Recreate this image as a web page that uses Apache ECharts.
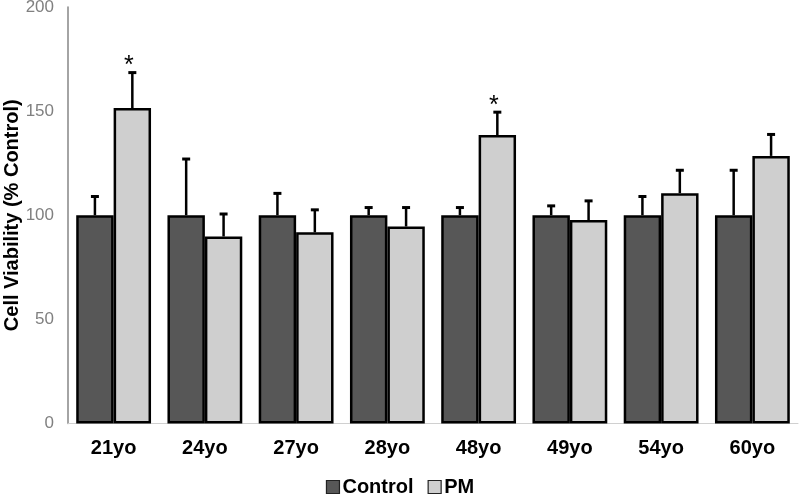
<!DOCTYPE html>
<html>
<head>
<meta charset="utf-8">
<script src="https://cdn.jsdelivr.net/npm/echarts@6/dist/echarts.min.js"></script>
<style>
html,body{margin:0;padding:0;background:#fff;}
#chart{width:800px;height:494px;}
</style>
</head>
<body>
<div id="chart"></div>
<script>
const categories = ['21yo','24yo','27yo','28yo','48yo','49yo','54yo','60yo'];
const controlValues = [100,100,100,100,100,100,100,100];
const controlErrors = [9,27,10.5,3.7,3.7,4.5,9,21.6];
const pmValues = [151.5,89.8,91.8,94.6,138.5,97.7,110.6,128.5];
const pmErrors = [17,10.8,10.8,9.1,11,9.2,11,10.3];
const pmSignificant = [true,false,false,false,true,false,false,false];
const yTicks = {min:0,max:200,interval:50};

const CAT_GAP = 0.18;
const FONT = 'Arial, "Liberation Sans", sans-serif';

function errorSeries(name, values, errors, side, sig) {
  return {
    type: 'custom',
    name: name + ' error',
    z: 5,
    silent: true,
    data: values.map((v, i) => [i, v, errors[i], sig ? (sig[i] ? 1 : 0) : 0]),
    encode: {x: 0, y: 1},
    renderItem: function (params, api) {
      const i = api.value(0);
      const v = api.value(1);
      const e = api.value(2);
      const band = api.size([1, 0])[0];
      const bw = band * (1 - CAT_GAP) / 2;
      const base = api.coord([i, v]);
      const top = api.coord([i, v + e]);
      const x = base[0] + side * bw / 2;
      const children = [
        {type: 'line', shape: {x1: x, y1: base[1], x2: x, y2: top[1]},
         style: {stroke: '#000', lineWidth: 2.5}},
        {type: 'line', shape: {x1: x - 4, y1: top[1], x2: x + 4, y2: top[1]},
         style: {stroke: '#000', lineWidth: 3}}
      ];
      if (api.value(3) === 1) {
        children.push({type: 'text', x: x - 3.5, y: top[1] - 6,
          style: {text: '*', fill: '#000', font: '25px ' + FONT,
                  align: 'center', verticalAlign: 'middle'}});
      }
      return {type: 'group', children: children};
    }
  };
}

const chart = echarts.init(document.getElementById('chart'), null, {renderer: 'canvas'});
chart.setOption({
  animation: false,
  backgroundColor: '#fff',
  grid: {left: 68, right: 2, top: 7, bottom: 70.5, containLabel: false, outerBoundsMode: 'none'},
  legend: {
    data: ['Control', 'PM'],
    bottom: -3,
    padding: 0,
    left: 'center',
    itemWidth: 13,
    itemHeight: 13,
    itemGap: 14,
    icon: 'rect',
    itemStyle: {borderColor: '#222', borderWidth: 1.2},
    textStyle: {fontFamily: FONT, fontSize: 20, fontWeight: 'bold', color: '#000', padding: [0,0,0,-2]}
  },
  xAxis: {
    type: 'category',
    data: categories,
    axisLine: {show: true, lineStyle: {color: '#d0d0d0', width: 1}},
    axisTick: {show: false},
    axisLabel: {fontFamily: FONT, fontSize: 20, fontWeight: 'bold', color: '#000', margin: 15}
  },
  yAxis: {
    type: 'value',
    min: yTicks.min,
    max: yTicks.max,
    interval: yTicks.interval,
    name: 'Cell Viability (% Control)',
    nameLocation: 'middle',
    nameGap: 46,
    nameMoveOverlap: false,
    nameTextStyle: {fontFamily: FONT, fontSize: 20, fontWeight: 'bold', color: '#000'},
    axisLine: {show: true, lineStyle: {color: '#868686', width: 1.5}},
    axisTick: {show: false},
    splitLine: {show: false},
    axisLabel: {fontFamily: FONT, fontSize: 17, color: '#808080', margin: 14}
  },
  series: [
    {
      name: 'Control', type: 'bar', data: controlValues,
      barGap: '0%', barCategoryGap: (CAT_GAP * 100) + '%',
      itemStyle: {color: '#575757', borderColor: '#000', borderWidth: 2.5}
    },
    {
      name: 'PM', type: 'bar', data: pmValues,
      barGap: '0%', barCategoryGap: (CAT_GAP * 100) + '%',
      itemStyle: {color: '#cfcfcf', borderColor: '#000', borderWidth: 2.5}
    },
    errorSeries('Control', controlValues, controlErrors, -1, null),
    errorSeries('PM', pmValues, pmErrors, 1, pmSignificant)
  ]
});
</script>
</body>
</html>
